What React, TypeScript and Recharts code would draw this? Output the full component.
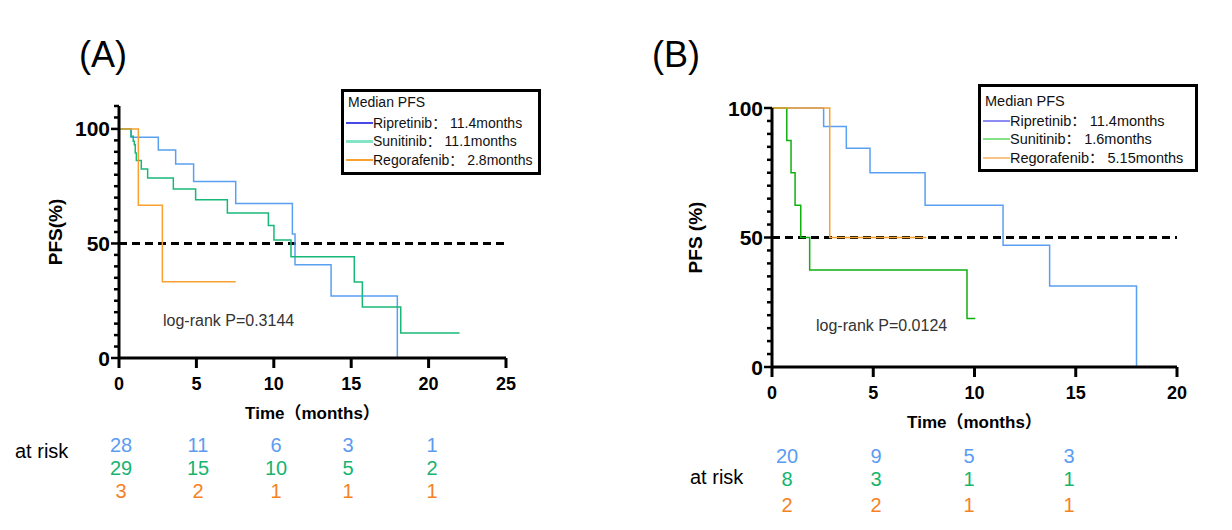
import React from "react";
import { LineChart, Line, XAxis, YAxis, ReferenceLine } from "recharts";

// ---- Panel A (months, PFS %) ----
const ripTimeA = [0, 0.78, 2.54, 3.66, 4.82, 7.54, 11.2, 11.37, 13.7, 17.98];
const ripPfsA = [100, 96.4, 90.8, 84.7, 77.0, 67.4, 54.1, 40.7, 27.1, 0];
const sunTimeA = [0, 0.78, 0.92, 0.99, 1.05, 1.12, 1.44, 1.85, 3.51, 4.95, 7.0, 9.65, 10.01, 11.11, 15.2, 15.72, 18.2, 22.0];
const sunPfsA = [100, 96.8, 94.6, 93.1, 89.5, 86.2, 82.5, 78.6, 73.8, 69.1, 63.3, 57.8, 51.5, 44.2, 33.2, 22.3, 10.9, 10.9];
const regTimeA = [0, 1.25, 2.8, 7.54];
const regPfsA = [100, 66.7, 33.3, 33.3];

// ---- Panel B ----
const ripTimeB = [0, 2.55, 3.67, 4.84, 7.56, 11.41, 13.71, 18.0];
const ripPfsB = [100, 92.9, 84.5, 75.0, 62.5, 47.0, 31.3, 0];
const sunTimeB = [0, 0.73, 0.94, 1.14, 1.42, 1.86, 9.63, 10.04];
const sunPfsB = [100, 87.5, 75, 62.5, 50, 37.5, 18.75, 18.75];
const regTimeB = [0, 2.85, 7.62];
const regPfsB = [100, 50, 50];

// ticks
const xTicksA = [0, 5, 10, 15, 20, 25];
const xTicksB = [0, 5, 10, 15, 20];
const yTicksA = [0, 5, 10, 15, 20, 25, 30, 35, 40, 45, 50, 55, 60, 65, 70, 75, 80, 85, 90, 95, 100, 105, 110];
const yTicksB = [0, 5, 10, 15, 20, 25, 30, 35, 40, 45, 50, 55, 60, 65, 70, 75, 80, 85, 90, 95, 100];

// legends
const legendA = ["Ripretinib： 11.4months", "Sunitinib： 11.1months", "Regorafenib： 2.8months"];
const legendB = ["Ripretinib： 11.4months", "Sunitinib： 1.6months", "Regorafenib： 5.15months"];

// numbers at risk (rows: ripretinib, sunitinib, regorafenib)
const riskRipA = [28, 11, 6, 3, 1];
const riskSunA = [29, 15, 10, 5, 2];
const riskRegA = [3, 2, 1, 1, 1];
const riskRipB = [20, 9, 5, 3];
const riskSunB = [8, 3, 1, 1];
const riskRegB = [2, 2, 1, 1];

const FONT = '"Liberation Sans", Arial, "Noto Sans CJK SC", sans-serif';
const BLUE = "#5aa0f2";
const GREEN_A = "#18b878";
const GREEN_B = "#10b010";
const ORANGE = "#f8a030";
const RISK_BLUE = "#5b9cf2";
const RISK_GREEN = "#16b46e";
const RISK_ORANGE = "#f5821f";

const steps = (times: number[], pfs: number[]) => times.map((t, i) => ({ t, s: pfs[i] }));

function Txt({ x, y, size, color = "#000", weight = "normal", align = "center", children }: any) {
  const tx = align === "center" ? "-50%" : "0";
  return (
    <div
      style={{
        position: "absolute",
        left: x,
        top: y,
        transform: `translate(${tx},-50%)`,
        fontSize: size,
        lineHeight: 1,
        color,
        fontWeight: weight,
        whiteSpace: "nowrap",
      }}
    >
      {children}
    </div>
  );
}

function YTick(props: any) {
  const { x, y, payload } = props;
  const v = payload.value;
  const major = v % 50 === 0;
  const len = major ? 8 : 5;
  return (
    <g>
      <line x1={x - len} x2={x} y1={y} y2={y} stroke="#000" strokeWidth={2.5} />
      {major && (
        <text x={x - len - 1} y={y} dy="0.36em" textAnchor="end" fontSize={21} fontWeight="bold" fontFamily={FONT} fill="#000">
          {v}
        </text>
      )}
    </g>
  );
}

function KMChart({ width, height, margin, yWidth, xHeight, xMax, yMax, xTicks, yTicks, curves, yLabel, xLabelOffset }: any) {
  return (
    <LineChart width={width} height={height} margin={margin}>
      <XAxis
        dataKey="t"
        type="number"
        domain={[0, xMax]}
        ticks={xTicks}
        height={xHeight}
        allowDataOverflow
        axisLine={{ stroke: "#000", strokeWidth: 3 }}
        tickLine={{ stroke: "#000", strokeWidth: 3 }}
        tickSize={10}
        tickMargin={9}
        tick={{ fill: "#000", fontSize: 18, fontWeight: "bold", fontFamily: FONT }}
        label={{
          value: "Time（months）",
          position: "insideBottom",
          offset: xLabelOffset,
          fill: "#000",
          fontSize: 17,
          fontWeight: "bold",
          fontFamily: FONT,
        }}
      />
      <YAxis
        type="number"
        domain={[0, yMax]}
        ticks={yTicks}
        width={yWidth}
        interval={0}
        axisLine={{ stroke: "#000", strokeWidth: 3 }}
        tickLine={false}
        tickSize={0}
        tickMargin={0}
        tick={<YTick />}
        label={{
          value: yLabel,
          angle: -90,
          position: "insideLeft",
          offset: 55,
          fill: "#000",
          fontSize: 19,
          fontWeight: "bold",
          fontFamily: FONT,
          style: { textAnchor: "middle" },
        }}
      />
      <ReferenceLine y={50} stroke="#000" strokeWidth={3} strokeDasharray="8 5" />
      {curves.map((c: any) => (
        <Line
          key={c.name}
          name={c.name}
          data={c.data}
          dataKey="s"
          type="stepAfter"
          stroke={c.color}
          strokeWidth={1.5}
          dot={false}
          activeDot={false}
          isAnimationActive={false}
        />
      ))}
    </LineChart>
  );
}

function LegendBox({ left, top, width, height, items, colors, widths, rowY, fontSize }: any) {
  return (
    <div
      style={{
        position: "absolute",
        left,
        top,
        width,
        height,
        boxSizing: "border-box",
        border: "3px solid #000",
        background: "#fff",
        fontSize,
        color: "#111",
      }}
    >
      <div style={{ position: "absolute", left: 4, top: rowY[0] - 8, lineHeight: "16px", whiteSpace: "nowrap" }}>Median PFS</div>
      {items.map((t: string, i: number) => (
        <div
          key={t}
          style={{ position: "absolute", left: 2, top: rowY[i + 1] - 8, height: 16, display: "flex", alignItems: "center", whiteSpace: "nowrap" }}
        >
          <span style={{ display: "inline-block", width: 27, height: widths[i], background: colors[i] }} />
          <span style={{ lineHeight: "16px" }}>{t}</span>
        </div>
      ))}
    </div>
  );
}

function RiskTable({ labelX, labelY, cols, rowsY, rows, colors }: any) {
  return (
    <>
      <Txt x={labelX} y={labelY} size={20} align="left">at risk</Txt>
      {rows.map((row: number[], r: number) =>
        row.map((n, c) => (
          <Txt key={`${r}-${c}`} x={cols[c]} y={rowsY[r]} size={20} color={colors[r]}>
            {n}
          </Txt>
        ))
      )}
    </>
  );
}

export default function App() {
  const curvesA = [
    { name: "Ripretinib", color: BLUE, data: steps(ripTimeA, ripPfsA) },
    { name: "Sunitinib", color: GREEN_A, data: steps(sunTimeA, sunPfsA) },
    { name: "Regorafenib", color: ORANGE, data: steps(regTimeA, regPfsA) },
  ];
  const curvesB = [
    { name: "Ripretinib", color: BLUE, data: steps(ripTimeB, ripPfsB) },
    { name: "Sunitinib", color: GREEN_B, data: steps(sunTimeB, sunPfsB) },
    { name: "Regorafenib", color: ORANGE, data: steps(regTimeB, regPfsB) },
  ];
  const riskColors = [RISK_BLUE, RISK_GREEN, RISK_ORANGE];

  return (
    <div style={{ position: "relative", width: 1232, height: 530, background: "#fff", fontFamily: FONT, overflow: "hidden" }}>
      <style>{"body{margin:0}"}</style>
      <Txt x={103} y={55} size={36}>(A)</Txt>
      <Txt x={676} y={55} size={36}>(B)</Txt>

      <div style={{ position: "absolute", left: 0, top: 0 }}>
        <KMChart
          width={560}
          height={430}
          margin={{ top: 106, right: 54, left: 0, bottom: 0 }}
          yWidth={119}
          xHeight={72}
          xMax={25}
          yMax={110}
          xTicks={xTicksA}
          yTicks={yTicksA}
          curves={curvesA}
          yLabel="PFS(%)"
          xLabelOffset={11}
        />
      </div>
      <div style={{ position: "absolute", left: 640, top: 0 }}>
        <KMChart
          width={580}
          height={440}
          margin={{ top: 108, right: 43, left: 0, bottom: 0 }}
          yWidth={132}
          xHeight={73}
          xMax={20}
          yMax={100}
          xTicks={xTicksB}
          yTicks={yTicksB}
          curves={curvesB}
          yLabel="PFS (%)"
          xLabelOffset={12}
        />
      </div>

      <LegendBox
        left={341}
        top={89}
        width={200}
        height={86}
        items={legendA}
        colors={["#4848e8", "#86e4c6", ORANGE]}
        widths={[1.5, 3, 1.5]}
        rowY={[10, 31, 49, 68]}
        fontSize={14}
      />
      <LegendBox
        left={978}
        top={84}
        width={220}
        height={88}
        items={legendB}
        colors={["#8c8cf2", "#86e286", "#f8c488"]}
        widths={[2.5, 2.5, 2.5]}
        rowY={[14, 34, 52, 71]}
        fontSize={14.5}
      />

      <Txt x={163} y={321} size={16} color="#333" align="left">log-rank P=0.3144</Txt>
      <Txt x={816} y={326} size={16} color="#333" align="left">log-rank P=0.0124</Txt>

      <RiskTable
        labelX={15}
        labelY={451}
        cols={[121, 198, 276, 348, 432]}
        rowsY={[445, 468, 491]}
        rows={[riskRipA, riskSunA, riskRegA]}
        colors={riskColors}
      />
      <RiskTable
        labelX={690}
        labelY={477}
        cols={[787, 876, 969, 1069]}
        rowsY={[456, 479, 505]}
        rows={[riskRipB, riskSunB, riskRegB]}
        colors={riskColors}
      />
    </div>
  );
}
